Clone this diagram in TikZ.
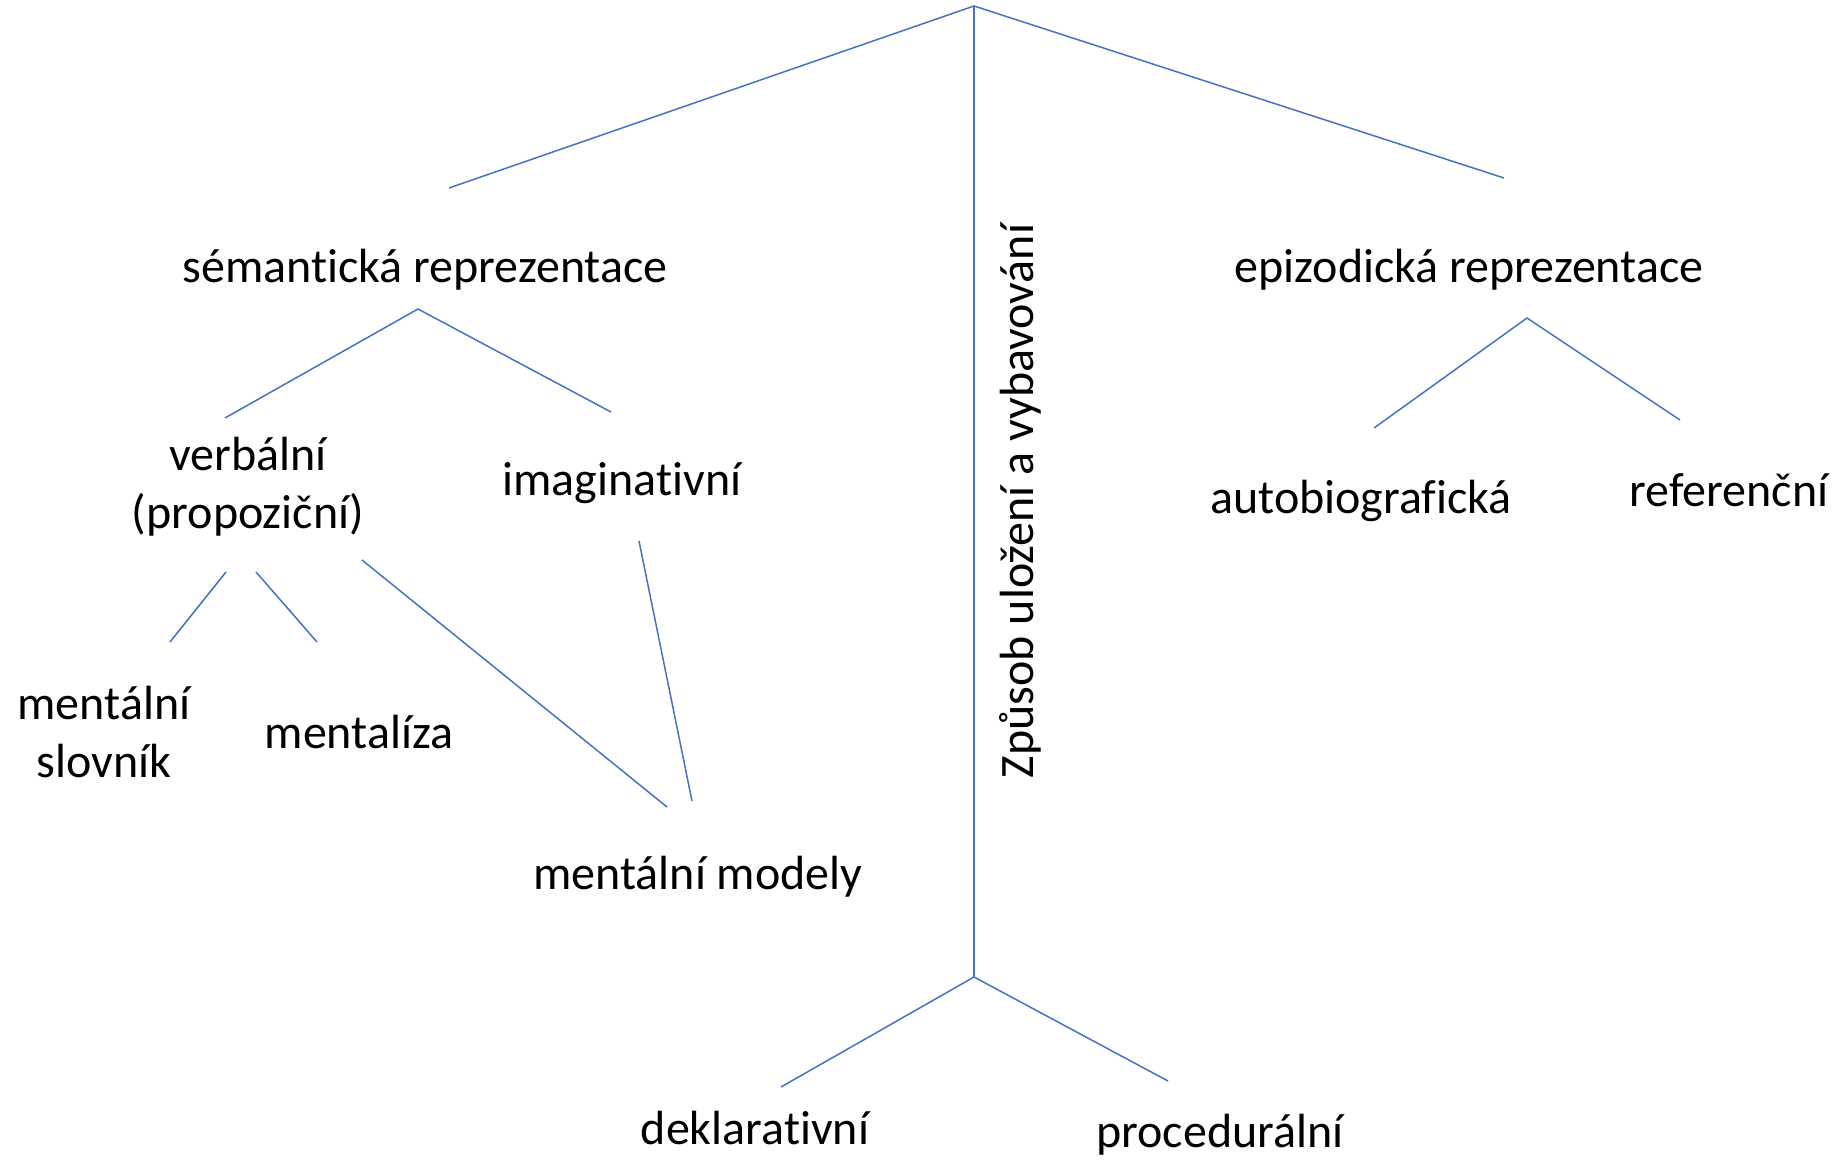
\documentclass[tikz,border=0pt]{standalone}
\usepackage{fontspec}
\setmainfont{Carlito}[Ligatures=NoCommon]
\definecolor{linkblue}{HTML}{4472C4}

\begin{document}
\begin{tikzpicture}[x=1pt,y=-1pt]
	\useasboundingbox (0,0) rectangle (1845,1161);
	\tikzset{link/.style={linkblue,line width=1.5pt}}
	\begin{scope}[every node/.style={anchor=base,inner sep=0pt,font=\fontsize{48}{58}\selectfont,align=center}]
	\node (sem) at (425,282) {sémantická reprezentace};
	\node (epi) at (1469,282) {epizodická reprezentace};
	\node (verb) at (248,528) {verbální\\(propoziční)};
	\node (imag) at (622,495) {imaginativní};
	\node (aut) at (1361,513) {autobiografická};
	\node (ref) at (1729,506) {referenční};
	\node (slov) at (104,777) {mentální\\slovník};
	\node (mlz) at (359,748) {mentalíza};
	\node (mod) at (698,889) {mentální modely};
	\node (dekl) at (755,1144) {deklarativní};
	\node (proc) at (1220,1147) {procedurální};
	\node [rotate=90] (zpus) at (1033,501) {Způsob uložení a vybavování};
	\end{scope}
	\coordinate (top) at (974,6);
	\coordinate (topL) at (449,188);
	\coordinate (topR) at (1504,178);
	\coordinate (bot) at (974,977);
	\coordinate (botL) at (781,1087);
	\coordinate (botR) at (1168,1081);
	\coordinate (semT) at (418,309);
	\coordinate (semL) at (225,418);
	\coordinate (semR) at (611,412);
	\coordinate (epiT) at (1527,318);
	\coordinate (epiL) at (1374,428);
	\coordinate (epiR) at (1680,420);
	\coordinate (verA) at (226,572);
	\coordinate (verB) at (170,642);
	\coordinate (verC) at (256,572);
	\coordinate (verD) at (317,642);
	\coordinate (verE) at (362,560);
	\coordinate (modL) at (667,807);
	\coordinate (imgA) at (639,541);
	\coordinate (modR) at (692,801);
	\draw [link] (topL) -- (top) -- (topR);
	\draw [link] (top) -- (bot);
	\draw [link] (botL) -- (bot) -- (botR);
	\draw [link] (semL) -- (semT) -- (semR);
	\draw [link] (epiL) -- (epiT) -- (epiR);
	\draw [link] (verA) -- (verB);
	\draw [link] (verC) -- (verD);
	\draw [link] (verE) -- (modL);
	\draw [link] (imgA) -- (modR);
\end{tikzpicture}
\end{document}
